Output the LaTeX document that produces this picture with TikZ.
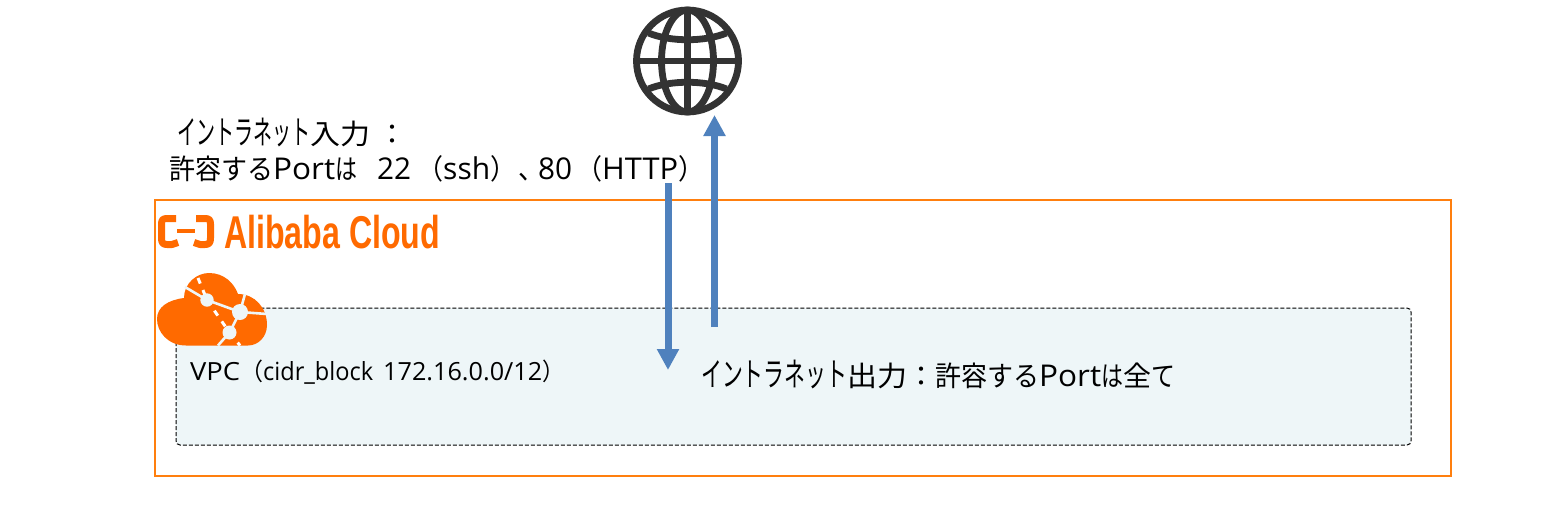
\documentclass[tikz,border=0pt]{standalone}
\usepackage{fontspec}
\setmainfont{Noto Sans CJK JP}
\newfontfamily\logofont{Liberation Sans}
\newfontfamily\latinfont{Open Sans}
\usetikzlibrary{arrows.meta}
\definecolor{frameorange}{HTML}{FF7F0E}
\definecolor{logoorange}{HTML}{FF6A00}
\definecolor{vpcfill}{HTML}{EEF6F8}
\definecolor{arrowblue}{HTML}{4F81BD}
\definecolor{globegrey}{HTML}{333333}
\newcommand{\wfit}[2]{\resizebox{#1pt}{\height}{#2}}
\newcommand{\lat}[2]{\wfit{#1}{\latinfont\fontsize{30}{34}\selectfont #2}}
\newcommand{\latsm}[2]{\wfit{#1}{\latinfont\fontsize{25}{30}\selectfont #2}}
\newcommand{\kana}[2]{\wfit{#1}{\fontsize{33}{36}\selectfont #2}}
\tikzset{
  frame/.style={draw=frameorange,line width=1.5pt},
  vpc/.style={draw=black,line width=1pt,dash pattern=on 4pt off 2pt,fill=vpcfill,rounded corners=4pt},
  flow/.style={draw=arrowblue,line width=7pt,-{Triangle[length=21pt,width=21pt]}},
  label/.style={inner sep=0pt,anchor=base west,font=\fontsize{28}{32}\selectfont},
  globeline/.style={draw=globegrey,line width=6.8pt},
  logoline/.style={draw=logoorange,line width=7pt},
  netline/.style={draw=vpcfill,line width=2.6pt},
  netdash/.style={draw=white,line width=3pt,dash pattern=on 6pt off 7pt},
  netdot/.style={fill=vpcfill}
}
\begin{document}
\begin{tikzpicture}[x=1pt,y=-1pt]
\useasboundingbox (0,0) rectangle (1552,514);
\fill[white] (0,0) rectangle (1552,514);
% frames
\draw[frame] (155,200) rectangle (1451,476);
\draw[vpc] (176,308) rectangle (1411,445);
% logo
\draw[logoline,line join=round] (176,218.5) -- (167,218.5) .. controls (163,218.5) and (161.5,220) .. (161.5,224) -- (161.5,238) .. controls (161.5,243) and (163,244.5) .. (167,244.5) -- (172,244.5) -- (178,242.5);
\draw[logoline,line join=round] (196,218.5) -- (205,218.5) .. controls (209,218.5) and (210.5,220) .. (210.5,224) -- (210.5,238) .. controls (210.5,243) and (209,244.5) .. (205,244.5) -- (200,244.5) -- (194,242.5);
\draw[draw=logoorange,line width=4.5pt] (177,231) -- (195,231);
\node[inner sep=0pt,anchor=base west,text=logoorange] (logo) at (224,248) {\wfit{216}{\logofont\bfseries\fontsize{46}{46}\selectfont Alibaba Cloud}};
% cloud
\fill[logoorange] (186,345.5) .. controls (168,345.5) and (157,332) .. (157,319)
  .. controls (157,307) and (168,300) .. (184,298)
  .. controls (184,283) and (197,273) .. (209,273)
  .. controls (224,273) and (234,283) .. (238,294)
  .. controls (255,294) and (267,308) .. (267,325)
  .. controls (267,337) and (258,345.5) .. (248,345.5) -- cycle;
\coordinate (na) at (207,300);
\coordinate (nb) at (240,312);
\coordinate (nc) at (229.5,332.5);
\draw[netline] (185,287) -- (na) -- (nb) -- (nc) -- (218,345.5);
\draw[netline] (nb) -- (267,314);
\draw[netline] (nb) -- (245,294);
\draw[netdash] (198,278) -- (na);
\draw[netdash] (na) -- (nc);
\draw[netdash] (nc) -- (240,345.5);
\fill[netdot] (na) circle (6.7pt);
\fill[netdot] (nb) circle (8pt);
\fill[netdot] (nc) circle (7pt);
% globe
\coordinate (gc) at (687.5,61);
\draw[globeline] (gc) circle (51pt);
\draw[globeline] (gc) ellipse (26pt and 51pt);
\draw[globeline] (636.5,61) -- (738.5,61);
\draw[globeline] (687.5,10) -- (687.5,112);
\draw[globeline] (648.5,33) .. controls (670,42) and (705,42) .. (726.5,33);
\draw[globeline] (648.5,89) .. controls (670,80) and (705,80) .. (726.5,89);
% arrows
\coordinate (da) at (668,183);
\coordinate (db) at (668,370);
\coordinate (ua) at (714.5,327);
\coordinate (ub) at (714.5,115);
\draw[flow] (da) -- (db);
\draw[flow] (ua) -- (ub);
% labels
\node[label] (in1) at (177,144) {\kana{133}{イントラネット}\wfit{60}{入力}\hspace{8pt}：};
\node[label] (in2) at (169,179) {\wfit{104}{許容する}\lat{62}{Port}\wfit{22}{は}\hspace{20pt}\lat{34}{22}\hspace{6pt}\wfit{26}{（}\lat{47}{ssh}\wfit{26}{）}\hspace{2pt}\wfit{26}{、}\hspace{-6pt}\lat{34}{80}\hspace{4pt}\wfit{26}{（}\lat{76}{HTTP}\wfit{26}{）}};
\node[label] (out) at (701,386) {\kana{146}{イントラネット}\wfit{60}{出力}：\wfit{104}{許容する}\lat{62}{Port}\wfit{22}{は}\wfit{28}{全}\wfit{24}{て}};
\node[label] (vpcl) at (190,380) {\latsm{50}{VPC}\wfit{23}{\fontsize{24}{28}\selectfont （}\latsm{110}{cidr\_block}\hspace{10pt}\latsm{159}{172.16.0.0/12}\wfit{22}{\fontsize{24}{28}\selectfont ）}};
\end{tikzpicture}
\end{document}
